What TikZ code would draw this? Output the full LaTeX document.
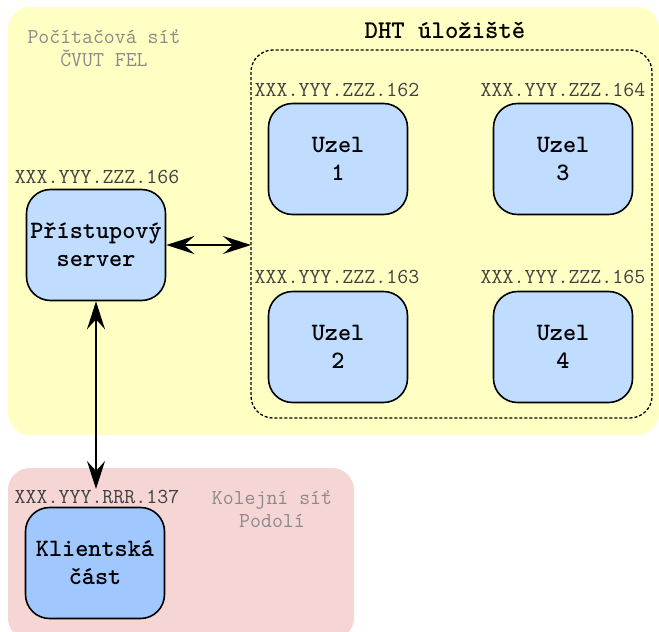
\documentclass[tikz,border=0pt]{standalone}
\usepackage{fontspec}
\usetikzlibrary{arrows.meta}
\definecolor{yel}{HTML}{FFFFC4}
\definecolor{pinkbg}{HTML}{F6D6D4}
\definecolor{nodeblue}{HTML}{C0DCFF}
\definecolor{clientblue}{HTML}{A0C8FF}
\definecolor{graytxt}{HTML}{8A8A8A}
\definecolor{iptxt}{HTML}{404040}
\tikzset{
  box/.style={draw=black, line width=1.6pt, rounded corners=24pt, fill=nodeblue,
    minimum width=139pt, minimum height=111pt, align=center, inner sep=0pt,
    font=\ttfamily\fontsize{25}{28}\selectfont\bfseries},
  ip/.style={font=\ttfamily\fontsize{21.3}{22}\selectfont, text=iptxt, inner sep=0pt},
  netlabel/.style={font=\ttfamily\fontsize{21.2}{23}\selectfont, text=graytxt, align=center, inner sep=0pt},
  conn/.style={line width=1.6pt, {Stealth[length=28pt,width=18pt,inset=10pt]}-{Stealth[length=28pt,width=18pt,inset=10pt]}}
}
\begin{document}
\begin{tikzpicture}[x=1pt,y=-1pt]
\useasboundingbox (0,0) rectangle (659,632);
% regions
\fill[yel, rounded corners=22pt] (8,7) rectangle (659,435);
\fill[pinkbg, rounded corners=22pt] (8,468) rectangle (354,640);
\node[netlabel] (cvut) at (104,48) {Počítačová síť\\ČVUT FEL};
\node[netlabel] (podoli) at (272,509) {Kolejní síť\\Podolí};
% DHT box
\draw[line width=1.3pt, dash pattern=on 3pt off 2pt, rounded corners=22pt] (251,50) rectangle (652,418);
\coordinate (dhtleft) at (251,245);
\node[font=\ttfamily\fontsize{25.5}{27}\selectfont\bfseries, inner sep=0pt] (dht) at (445,30) {DHT úložiště};
% nodes
\node[box] (server) at (96,245) {Přístupový\\server};
\node[box] (u1) at (338,159) {Uzel\\1};
\node[box] (u3) at (563,159) {Uzel\\3};
\node[box] (u2) at (338,347) {Uzel\\2};
\node[box] (u4) at (563,347) {Uzel\\4};
\node[box, fill=clientblue] (client) at (95,563) {Klientská\\část};
% ip labels
\node[ip] (ip166) at (97,177) {XXX.YYY.ZZZ.166};
\node[ip] (ip162) at (337,90) {XXX.YYY.ZZZ.162};
\node[ip] (ip164) at (563,90) {XXX.YYY.ZZZ.164};
\node[ip] (ip163) at (337,277) {XXX.YYY.ZZZ.163};
\node[ip] (ip165) at (563,277) {XXX.YYY.ZZZ.165};
\node[ip] (ip137) at (97,497) {XXX.YYY.RRR.137};
% connectors
\coordinate (clienttop) at (96,489);
\draw[conn] (server.east) -- (dhtleft);
\draw[conn] (server.south) -- (clienttop);
\end{tikzpicture}
\end{document}
